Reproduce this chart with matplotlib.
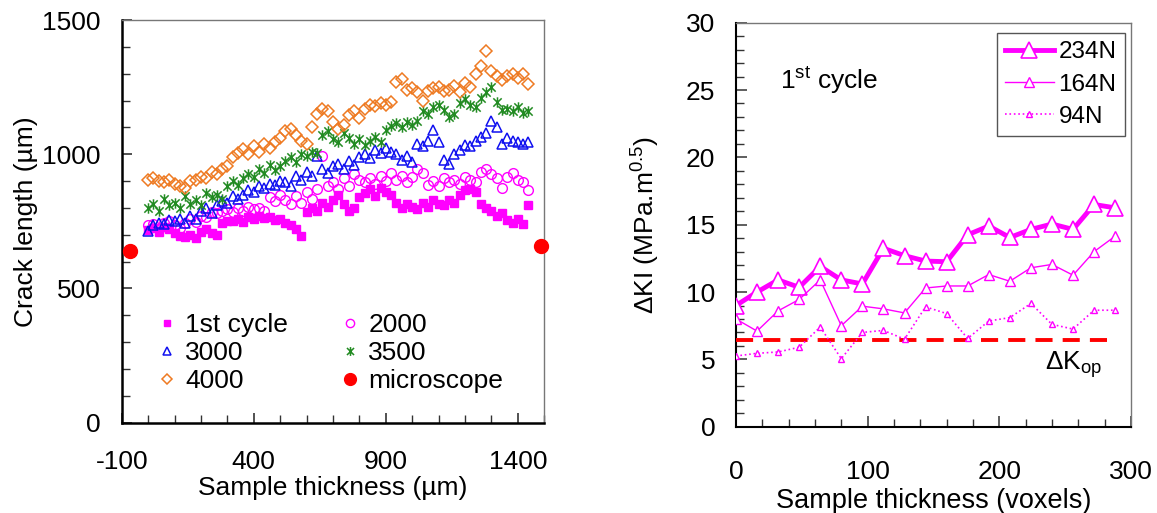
import matplotlib
matplotlib.use("Agg")
import matplotlib.pyplot as plt
from matplotlib.path import Path
from matplotlib.ticker import MultipleLocator

plt.rcParams['font.family'] = ['Liberation Sans', 'DejaVu Sans']
plt.rcParams['mathtext.fontset'] = 'custom'
plt.rcParams['mathtext.rm'] = 'Liberation Sans'
plt.rcParams['mathtext.it'] = 'Liberation Sans:italic'
plt.rcParams['mathtext.default'] = 'regular'
plt.rcParams['axes.unicode_minus'] = False

# ---------------- Left panel data ----------------
thickness_um = [0, 20, 40, 60, 80, 100, 120, 140, 160, 180, 200, 220, 240, 260, 280, 300,
                320, 340, 360, 380, 400, 420, 440, 460, 480, 500, 520, 540, 560, 580, 600,
                620, 640, 660, 680, 700, 720, 740, 760, 780, 800, 820, 840, 860, 880, 900,
                920, 940, 960, 980, 1000, 1020, 1040, 1060, 1080, 1100, 1120, 1140, 1160,
                1180, 1200, 1220, 1240, 1260, 1280, 1300, 1320, 1340, 1360, 1380, 1400,
                1420, 1440]

crack_1st = [718, 725, 712, 730, 720, 705, 695, 690, 700, 688, 712, 720, 705, 700, 745, 750,
             752, 760, 748, 765, 758, 770, 762, 768, 755, 760, 745, 735, 720, 695, 785,
             800, 790, 820, 805, 830, 850, 815, 790, 800, 840, 855, 870, 845, 875, 860,
             850, 820, 800, 815, 805, 795, 820, 805, 830, 815, 810, 830, 820,
             850, 865, 870, 860, 815, 800, 790, 770, 780, 755, 745, 760,
             740, 810]

crack_2000 = [735, 740, 720, 745, 750, 738, 725, 745, 760, 748, 770, 765, 785, 780, 790, 795,
              785, 800, 790, 805, 795, 800, 790, 840, 825, 850, 830, 815, 845, 820, 860,
              835, 870, 995, 880, 895, 870, 910, 880, 925, 905, 895, 910, 890, 920, 900,
              930, 905, 920, 895, 915, 945, 930, 885, 900, 880, 910, 895, 905,
              890, 915, 905, 895, 935, 945, 925, 910, 875, 915, 930, 905,
              895, 865]

crack_3000 = [715, 735, 745, 740, 755, 750, 760, 745, 770, 760, 790, 800, 780, 810, 825, 820,
              845, 835, 850, 865, 860, 880, 875, 890, 885, 900, 895, 880, 920, 905, 935,
              920, 995, 945, 930, 955, 965, 945, 975, 960, 990, 1000, 985, 1015, 1005, 1025,
              1010, 1000, 980, 995, 970, 1040, 1030, 1050, 1090, 1045, 980, 965, 1000,
              1015, 1035, 1030, 1050, 1065, 1080, 1125, 1100, 1040, 1060, 1050, 1045,
              1040, 1045]

crack_3500 = [800, 815, 790, 835, 810, 820, 800, 845, 815, 830, 810, 855, 840, 850, 835, 880,
              900, 885, 910, 925, 915, 945, 930, 960, 940, 955, 975, 990, 970, 1000, 995,
              1010, 1005, 1070, 1085, 1055, 1045, 1080, 1060, 1040, 1055, 1035, 1050, 1065,
              1045, 1090, 1105, 1115, 1100, 1120, 1110, 1125, 1160, 1150, 1175, 1185, 1165,
              1140, 1150, 1190, 1205, 1185, 1175, 1210, 1230, 1250, 1195, 1165, 1170, 1160,
              1175, 1155, 1160]

crack_4000 = [905, 910, 900, 895, 905, 890, 880, 875, 900, 905, 915, 910, 935, 925, 945, 955,
              990, 1005, 1020, 1000, 1030, 1010, 1040, 1025, 1045, 1060, 1085, 1095, 1070,
              1050, 1040, 1100, 1150, 1170, 1160, 1120, 1095, 1110, 1145, 1160, 1135, 1170,
              1185, 1180, 1190, 1185, 1195, 1270, 1280, 1240, 1245, 1230, 1200, 1235, 1245,
              1250, 1235, 1240, 1255, 1230, 1265, 1250, 1300, 1330, 1385, 1310, 1290, 1275,
              1290, 1300, 1285, 1300, 1260]

microscope_x = [-70, 1487]
microscope_y = [640, 660]

# ---------------- Right panel data ----------------
thickness_vox = [0, 16, 32, 48, 64, 80, 96, 112, 128, 144, 160, 176, 192, 208, 224, 240,
                 256, 272, 288]
dK_234N = [9.0, 10.0, 10.9, 10.35, 11.9, 10.9, 10.6, 13.25, 12.7, 12.3, 12.25, 14.25,
           14.9, 14.05, 14.65, 15.05, 14.65, 16.5, 16.25]
dK_164N = [8.0, 7.1, 8.6, 9.45, 10.9, 7.5, 8.95, 8.75, 8.45, 10.3, 10.45, 10.45, 11.3,
           10.8, 11.8, 12.05, 11.25, 13.0, 14.15]
dK_94N = [5.25, 5.45, 5.55, 5.9, 7.4, 5.05, 7.0, 7.15, 6.5, 8.9, 8.4, 6.55, 7.85, 8.1,
          9.15, 7.6, 7.25, 8.65, 8.65]
dK_op = 6.44

left_legend = ['1st cycle', '2000', '3000', '3500', '4000', 'microscope']
right_legend = ['234N', '164N', '94N']

MAG = '#FF00FF'
BLUE = '#1010F0'
GREEN = '#228B22'
ORANGE = '#EE7A22'
RED = '#FF0000'

star = Path([(-1, -1), (1, 1), (-1, 1), (1, -1), (0, -1.25), (0, 1.25)],
            [Path.MOVETO, Path.LINETO, Path.MOVETO, Path.LINETO, Path.MOVETO, Path.LINETO])

fig = plt.figure(figsize=(11.57, 5.13), dpi=100)
axL = fig.add_axes([0.1052, 0.176, 0.3652, 0.785])
axR = fig.add_axes([0.6361, 0.1682, 0.3414, 0.7876])

FS = 19

# ---- left ----
h1, = axL.plot(thickness_um, crack_1st, 's', color=MAG, ms=5.5, mec=MAG, label=left_legend[0])
h2, = axL.plot(thickness_um, crack_2000, 'o', mfc='none', mec=MAG, ms=7, mew=1, label=left_legend[1])
h3, = axL.plot(thickness_um, crack_3000, '^', mfc='none', mec=BLUE, ms=7.5, mew=1.1, label=left_legend[2])
h4, = axL.plot(thickness_um, crack_3500, linestyle='none', marker=star, mfc='none', mec=GREEN,
               ms=7.5, mew=1.1, label=left_legend[3])
h5, = axL.plot(thickness_um, crack_4000, 'D', mfc='none', mec=ORANGE, ms=6, mew=1.1, label=left_legend[4])
h6, = axL.plot(microscope_x, microscope_y, 'o', color=RED, ms=10, clip_on=False, zorder=5,
               label=left_legend[5])

axL.set_xlim(-100, 1500)
axL.set_ylim(0, 1500)
axL.xaxis.set_minor_locator(MultipleLocator(100))
axL.yaxis.set_major_locator(MultipleLocator(500))
axL.yaxis.set_minor_locator(MultipleLocator(100))
axL.set_xticks([-100, 400, 900, 1400])
axL.tick_params(which='both', direction='in', labelsize=FS, color='#333333')
axL.tick_params(which='major', length=7, width=1.2, pad=15)
axL.tick_params(which='minor', length=6, width=1.0)
axL.tick_params(axis='x', which='major', pad=20)
axL.set_xlabel('Sample thickness (µm)', fontsize=FS, labelpad=1)
axL.set_ylabel('Crack length (µm)', fontsize=FS, labelpad=3)
for s in ['left', 'bottom']:
    axL.spines[s].set_color('black')
    axL.spines[s].set_linewidth(1.8)
for s in ['top', 'right']:
    axL.spines[s].set_color('#777777')
    axL.spines[s].set_linewidth(1.0)

legL = axL.legend([h1, h3, h5, h2, h4, h6],
                  [left_legend[0], left_legend[2], left_legend[4],
                   left_legend[1], left_legend[3], left_legend[5]],
                  ncol=2, loc='upper left', bbox_to_anchor=(0.053, 0.298), frameon=False,
                  fontsize=FS, handlelength=0.9, handletextpad=0.25, columnspacing=1.9,
                  labelspacing=0.15, borderaxespad=0, markerscale=0.85)

# ---- right ----
axR.plot(thickness_vox, dK_234N, '-^', color=MAG, lw=3.5, ms=11, mfc='white', mec=MAG, mew=1.2,
         label=right_legend[0], zorder=4)
axR.plot(thickness_vox, dK_164N, '-^', color=MAG, lw=1.0, ms=7, mfc='white', mec=MAG, mew=1.0,
         label=right_legend[1], zorder=4)
axR.plot(thickness_vox, dK_94N, ':^', color=MAG, lw=1.2, ms=5, mfc='white', mec=MAG, mew=1.0,
         label=right_legend[2], zorder=4)
axR.plot([thickness_vox[0], thickness_vox[-1]], [dK_op, dK_op], color=RED, lw=2.8,
         linestyle=(0, (4.4, 2.6)), zorder=3)

axR.set_xlim(0, 300)
axR.set_ylim(0, 30)
axR.xaxis.set_major_locator(MultipleLocator(100))
axR.xaxis.set_minor_locator(MultipleLocator(20))
axR.yaxis.set_major_locator(MultipleLocator(5))
axR.yaxis.set_minor_locator(MultipleLocator(1))
axR.tick_params(which='both', direction='in', labelsize=FS, color='#333333')
axR.tick_params(which='major', length=8, width=1.1, pad=15)
axR.tick_params(which='minor', length=6, width=1.0)
axR.tick_params(axis='x', which='major', pad=24)
axR.set_xlabel('Sample thickness (voxels)', fontsize=FS + 0.5, labelpad=3)
axR.set_ylabel(r'$\Delta$KI (MPa.m$^{0.5}$)', fontsize=FS, labelpad=17)
for s in ['left', 'bottom']:
    axR.spines[s].set_color('black')
    axR.spines[s].set_linewidth(1.5)
for s in ['top', 'right']:
    axR.spines[s].set_color('#777777')
    axR.spines[s].set_linewidth(1.0)

axR.text(33.4, 25.1, r'1$^{\mathrm{st}}$ cycle', fontsize=FS, ha='left', va='baseline')
axR.text(234.5, 4.2, r'$\Delta$K$_{\mathrm{op}}$', fontsize=FS, ha='left', va='baseline')

legR = axR.legend(loc='upper right', bbox_to_anchor=(0.985, 0.975), fontsize=17.5,
                  handlelength=2.0, handletextpad=0.2, labelspacing=0.42, borderaxespad=0,
                  fancybox=False, framealpha=1, edgecolor='#555555', borderpad=0.35)
legR.get_frame().set_linewidth(1.0)

fig.savefig('out.png', dpi=100)
